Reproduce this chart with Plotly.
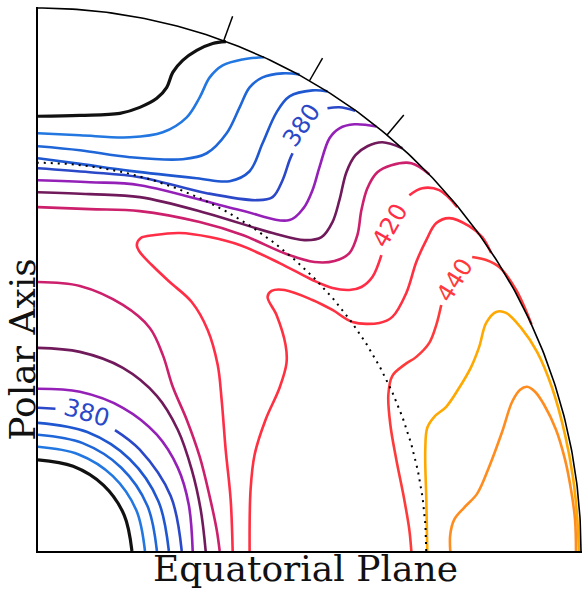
import numpy as np
import plotly.graph_objects as go

# ---------------------------------------------------------------
# Contour paths, (x, y) in units of the
# outer radius (origin = centre, x along equatorial plane,
# y along polar axis).  None marks a gap where a label sits.
# ---------------------------------------------------------------
# high-latitude family (starts on the polar axis)
C340_POLE = [(0, 0.8006), (0.0772, 0.8024), (0.1507, 0.806), (0.1875, 0.817), (0.2188, 0.8336),
             (0.2371, 0.8539), (0.2482, 0.8814), (0.2665, 0.9035), (0.2923, 0.9219), (0.3217, 0.9347),
             (0.346, 0.938)]
C350_POLE = [(0, 0.7693), (0.0772, 0.7656), (0.1691, 0.7619), (0.2298, 0.7711), (0.2739, 0.7987),
             (0.2978, 0.8355), (0.3162, 0.8722), (0.3401, 0.8943), (0.3768, 0.9053), (0.4166, 0.9092)]
C360_POLE = [(0, 0.7454), (0.0772, 0.738), (0.1691, 0.7252), (0.2665, 0.7215), (0.3107, 0.7325),
             (0.3474, 0.7693), (0.3713, 0.8171), (0.3897, 0.8539), (0.4136, 0.8722), (0.4504, 0.8796),
             (0.4816, 0.8778)]
C370_POLE = [(0, 0.7233), (0.0772, 0.713), (0.1691, 0.700), (0.2923, 0.6866), (0.3529, 0.6811),
             (0.3897, 0.6994), (0.4136, 0.7509), (0.4393, 0.8079), (0.4632, 0.8373), (0.5055, 0.8483),
             (0.5331, 0.8465)]
C380_POLE = [(0, 0.705), (0.0956, 0.6976), (0.1875, 0.6884), (0.3107, 0.659), (0.4026, 0.6461),
             (0.432, 0.6517), (0.4504, 0.6829), (0.4632, 0.7197), (0.4688, 0.7325), None,
             (0.5331, 0.8153), (0.5551, 0.8171), (0.584, 0.811)]
C390_POLE = [(0, 0.6829), (0.0956, 0.6792), (0.1875, 0.6737), (0.3713, 0.6278), (0.4632, 0.6094),
             (0.4890, 0.6314), (0.5055, 0.6645), (0.5184, 0.7068), (0.5368, 0.7601), (0.5551, 0.7785),
             (0.5827, 0.7858), (0.623, 0.782)]
C400_POLE = [(0, 0.6608), (0.0956, 0.6572), (0.1875, 0.6517), (0.3107, 0.6222), (0.4320, 0.5855),
             (0.4908, 0.5726), (0.5221, 0.5781), (0.5423, 0.6057), (0.5551, 0.6461), (0.5680, 0.6976),
             (0.5846, 0.7289), (0.6066, 0.7454), (0.6342, 0.7528), (0.6710, 0.7417)]
C410_POLE = [(0, 0.6333), (0.0956, 0.6296), (0.1875, 0.6259), (0.2978, 0.6057), (0.3768, 0.5818),
             (0.4577, 0.5469), (0.5092, 0.5322), (0.5460, 0.5340), (0.5735, 0.5487), (0.5882, 0.5818),
             (0.5956, 0.6278), (0.6066, 0.6682), (0.6250, 0.6976), (0.6507, 0.7105), (0.6875, 0.7142),
             (0.7206, 0.6939)]
# low-latitude family (starts on the equatorial plane)
C420 = [(0.3585, 0), (0.3548, 0.0947), (0.3456, 0.1866), (0.3382, 0.2785), (0.3309, 0.3428),
        (0.3125, 0.4072), (0.2831, 0.4586), (0.2426, 0.4954), (0.2096, 0.5267), (0.1875, 0.5506),
        (0.1820, 0.5634), (0.1893, 0.5763), (0.2151, 0.5818), (0.2610, 0.5855), (0.3162, 0.5781),
        (0.3713, 0.5634), (0.4449, 0.5303), (0.5055, 0.4991), (0.5423, 0.4844), (0.5735, 0.4807),
        (0.5956, 0.4862), (0.6158, 0.5046), (0.6324, 0.5450), None,
        (0.6838, 0.6553), (0.7077, 0.6682), (0.7390, 0.6645), (0.7721, 0.6333)]
C430 = [(0.3897, 0), (0.3915, 0.1131), (0.3989, 0.1774), (0.4191, 0.2417), (0.4449, 0.3006),
        (0.4577, 0.3465), (0.4559, 0.3796), (0.4393, 0.4347), (0.4228, 0.4678), (0.4301, 0.4789),
        (0.4540, 0.4807), (0.5055, 0.4623), (0.5423, 0.4439), (0.5790, 0.4219), (0.6287, 0.4200),
        (0.6526, 0.4311), (0.6783, 0.4752), (0.6967, 0.5322), (0.7151, 0.5726), (0.7335, 0.6039),
        (0.7574, 0.6131), (0.7941, 0.5983), (0.8180, 0.5781), (0.8346, 0.5487)]
C440 = [(0.6875, 0), (0.6838, 0.0395), (0.6728, 0.1039), (0.6599, 0.1682), (0.6489, 0.2325),
        (0.6452, 0.2877), (0.6526, 0.3226), (0.6746, 0.3428), (0.6967, 0.3575), (0.7206, 0.3833),
        (0.7335, 0.4164), (0.7426, 0.4531), None,
        (0.7996, 0.5414), (0.8254, 0.5358), (0.8493, 0.5230), (0.8805, 0.4807), (0.9088, 0.4175)]
C450 = [(0.7169, 0), (0.7151, 0.0947), (0.7132, 0.1866), (0.7169, 0.2270), (0.7298, 0.2472),
        (0.7518, 0.2656), (0.7757, 0.3006), (0.7978, 0.3392), (0.8125, 0.3759), (0.8254, 0.4200),
        (0.8438, 0.4403), (0.8621, 0.4384), (0.8897, 0.4108), (0.9191, 0.3667), (0.9467, 0.3006),
        (0.9706, 0.2142), (0.9853, 0.1351), (0.9926, 0.0671), (0.9963, 0)]
C460 = [(0.7592, 0), (0.7592, 0.0303), (0.7665, 0.0579), (0.7849, 0.0800), (0.8088, 0.1057),
        (0.8309, 0.1553), (0.8548, 0.2197), (0.8732, 0.2748), (0.8879, 0.2969), (0.9007, 0.3024),
        (0.9154, 0.2932), (0.9320, 0.2693), (0.9540, 0.2233), (0.9706, 0.1682), (0.9816, 0.1131),
        (0.9890, 0.0579), (0.9908, 0)]
# core family (around the centre)
C340_CORE = [(0.173, 0), (0.1589, 0.0658), (0.1209, 0.1209), (0.0647, 0.1561), (0, 0.168)]
C350_CORE = [(0.197, 0), (0.1811, 0.0750), (0.1379, 0.1379), (0.0739, 0.1783), (0, 0.192)]
C360_CORE = [(0.219, 0), (0.2014, 0.0834), (0.1534, 0.1534), (0.0823, 0.1986), (0, 0.214)]
C370_CORE = [(0.241, 0), (0.2217, 0.0918), (0.1690, 0.1690), (0.0907, 0.2190), (0, 0.236)]
C380_CORE = [(0.2647, 0), (0.2444, 0.1012), (0.1870, 0.1870), (0.1418, 0.2227), None,
             (0.0322, 0.2620), (0, 0.2638)]
C390_CORE = [(0, 0.2987), (0.0772, 0.2932), (0.1563, 0.2638), (0.2188, 0.2142), (0.2574, 0.1535),
             (0.2776, 0.0855), (0.2849, 0)]
C400_CORE = [(0, 0.3741), (0.0772, 0.3667), (0.1563, 0.3373), (0.2188, 0.2858), (0.2574, 0.2233),
             (0.2831, 0.1498), (0.2996, 0.0763), (0.3088, 0)]
C410_CORE = [(0, 0.4954), (0.0772, 0.4881), (0.1563, 0.4531), (0.2059, 0.4108), (0.2298, 0.3612),
             (0.2482, 0.3024), (0.2739, 0.2417), (0.2978, 0.1737), (0.3162, 0.1002), (0.3290, 0.0395),
             (0.3346, 0)]

CONTOURS = [
    (340, C340_POLE), (350, C350_POLE), (360, C360_POLE), (370, C370_POLE), (380, C380_POLE),
    (390, C390_POLE), (400, C400_POLE), (410, C410_POLE),
    (420, C420), (430, C430), (440, C440), (450, C450), (460, C460),
    (340, C340_CORE), (350, C350_CORE), (360, C360_CORE), (370, C370_CORE), (380, C380_CORE),
    (390, C390_CORE), (400, C400_CORE), (410, C410_CORE),
]

# contour labels
LABEL_TEXT = ["380", "380", "420", "440"]
LABEL_LEVEL = [380, 380, 420, 440]
R_BCZ = 0.715            # base of convection zone (dotted)
TICK_LAT = [50, 60, 70]  # latitude tick marks on the surface

# ---------------------------------------------------------------
LEVEL_COLORS = {340: "#111111", 350: "#2277e0", 360: "#1f66d8", 370: "#1f57d0", 380: "#2a48c8",
                390: "#9420b8", 400: "#701a5c", 410: "#cc1f6c", 420: "#ff2d46", 430: "#ff3040",
                440: "#ff3a3a", 450: "#ffa800", 460: "#ff8c1f"}

fig = go.Figure()

for level, pts in CONTOURS:
    xs = [p[0] if p is not None else None for p in pts]
    ys = [p[1] if p is not None else None for p in pts]
    fig.add_trace(go.Scatter(
        x=xs, y=ys, mode="lines",
        line=dict(color=LEVEL_COLORS[level], width=3.2 if level == 340 else 2.6,
                  shape="spline", smoothing=1.0),
        connectgaps=False, hoverinfo="skip"))

# dotted base of convection zone
th = np.linspace(0, np.pi / 2, 200)
fig.add_trace(go.Scatter(x=R_BCZ * np.cos(th), y=R_BCZ * np.sin(th), mode="lines",
                         line=dict(color="black", width=2, dash="2px,5px"), hoverinfo="skip"))
# outer surface
fig.add_trace(go.Scatter(x=np.cos(th), y=np.sin(th), mode="lines",
                         line=dict(color="black", width=1.6), hoverinfo="skip"))
# latitude ticks
for lat in TICK_LAT:
    a = np.deg2rad(lat)
    fig.add_trace(go.Scatter(x=[np.cos(a), 1.048 * np.cos(a)], y=[np.sin(a), 1.048 * np.sin(a)],
                             mode="lines", line=dict(color="black", width=1.5), hoverinfo="skip"))

label_pos = [(0.486, 0.784, -55), (0.090, 0.255, 16), (0.649, 0.600, -60), (0.768, 0.499, -58)]
for txt, lev, (lx, ly, ang) in zip(LABEL_TEXT, LABEL_LEVEL, label_pos):
    fig.add_annotation(x=lx, y=ly, xref="x", yref="y", text=txt, showarrow=False,
                       textangle=ang, font=dict(family="DejaVu Sans", size=24, color=LEVEL_COLORS[lev]))

fig.add_annotation(x=0.491, y=-0.0325, xref="paper", yref="paper", text="Equatorial Plane",
                   xanchor="center", yanchor="middle", showarrow=False,
                   font=dict(family="DejaVu Serif", size=36, color="#111111"))
fig.add_annotation(x=-0.0285, y=0.371, xref="paper", yref="paper", text="Polar Axis",
                   xanchor="center", yanchor="middle", showarrow=False, textangle=-90,
                   font=dict(family="DejaVu Serif", size=36, color="#111111"))

ax = dict(range=[0, 544 / 543], showline=True, linecolor="black", linewidth=1.5,
          showgrid=False, zeroline=False, showticklabels=False, ticks="", fixedrange=True)
fig.update_layout(width=582, height=589, margin=dict(l=38, r=0, t=7, b=38, pad=0),
                  xaxis=ax, yaxis=ax, showlegend=False,
                  plot_bgcolor="white", paper_bgcolor="white")

fig.write_html("out.html", config={"displayModeBar": False},
               post_script="document.body.style.margin='0px';")
